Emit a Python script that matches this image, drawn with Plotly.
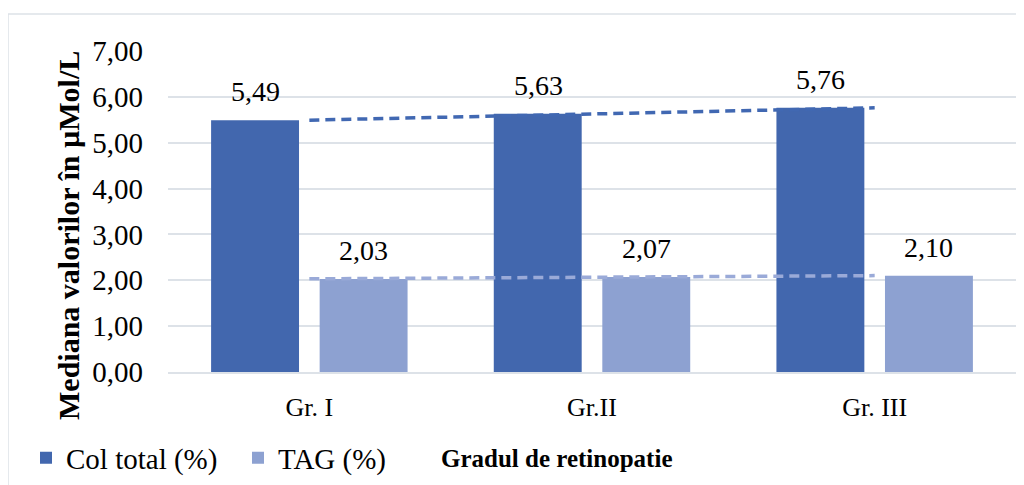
import numpy as np
import plotly.graph_objects as go

categories = ["Gr. I", "Gr.II", "Gr. III"]
col_total = [5.49, 5.63, 5.76]
tag = [2.03, 2.07, 2.10]
series_names = ["Col total (%)", "TAG (%)"]
y_ticks = [0, 1, 2, 3, 4, 5, 6, 7]

FONT = "Liberation Serif, Times New Roman, serif"
COL_C = "#4267ae"
TAG_C = "#8da1d1"
COL_LEG = "#2f59a6"
TAG_LEG = "#97a8d6"
COL_TREND = "#4168b2"
TAG_TREND = "#9aaad8"
GRID = "#dde2e8"

W, H = 1024, 485
OFF = 8  # page body margin
# target plot area in screen pixels
SX0, SX1, SY0, SY1 = 168, 1016, 51, 372
L, T = SX0 - OFF, SY0 - OFF
R, B = W - (SX1 - OFF), H - (SY1 - OFF)
PW, PH = SX1 - SX0, SY1 - SY0

def px_x(p):
    return (p - SX0) / PW

def px_y(p):
    return (SY1 - p) / PH

idx = np.arange(1, len(categories) + 1)
def trend(vals):
    m, b = np.polyfit(idx, vals, 1)
    return list(m * idx + b)

fig = go.Figure()
fig.add_bar(x=categories, y=col_total, name=series_names[0], marker=dict(color=COL_C, line=dict(width=0)))
fig.add_bar(x=categories, y=tag, name=series_names[1], marker=dict(color=TAG_C, line=dict(width=0)))
fig.add_scatter(x=categories, y=trend(col_total), mode="lines", showlegend=False,
                line=dict(color=COL_TREND, width=3.5, dash="10px,6px"), hoverinfo="skip")
fig.add_scatter(x=categories, y=trend(tag), mode="lines", showlegend=False,
                line=dict(color=TAG_TREND, width=3.5, dash="10px,6px"), hoverinfo="skip")

annotations = []
for vals, shift in ((col_total, -54), (tag, 54)):
    for c, v in zip(categories, vals):
        annotations.append(dict(x=c, y=v, xref="x", yref="y", text=f"{v:.2f}".replace(".", ","),
                                showarrow=False, xshift=shift, yshift=11, yanchor="bottom",
                                font=dict(family=FONT, size=28, color="#000000")))
annotations.append(dict(x=px_x(556), y=px_y(458), xref="paper", yref="paper",
                        text="<b>Gradul de retinopatie</b>", showarrow=False,
                        xanchor="center", yanchor="middle",
                        font=dict(family=FONT, size=25, color="#000000")))
annotations.append(dict(x=px_x(69), y=px_y(236), xref="paper", yref="paper",
                        text="<b>Mediana valorilor în µMol/L</b>", showarrow=False, textangle=-90,
                        xanchor="center", yanchor="middle",
                        font=dict(family=FONT, size=30, color="#000000")))

fig.update_layout(
    width=W, height=H,
    margin=dict(l=L, r=R, t=T, b=B, autoexpand=False),
    paper_bgcolor="white", plot_bgcolor="white",
    separators=",.",
    barmode="group", bargap=0.232, bargroupgap=0.19,
    font=dict(family=FONT, size=26, color="#000000"),
    showlegend=True,
    legend=dict(orientation="h", x=px_x(26), xanchor="left", y=px_y(458), yanchor="middle",
                font=dict(family=FONT, size=29, color="#000000"), bgcolor="rgba(0,0,0,0)",
                traceorder="normal", entrywidth=167),
    annotations=annotations,
    shapes=[dict(type="rect", xref="paper", yref="paper",
                 x0=px_x(8), x1=1.05, y0=-0.6, y1=px_y(14),
                 line=dict(color=GRID, width=1.5), fillcolor="rgba(0,0,0,0)", layer="below")],
)
fig.update_xaxes(showgrid=False, showline=True, linecolor=GRID, linewidth=1.5, automargin=False,
                 ticks="", ticklabelstandoff=11, tickfont=dict(family=FONT, size=26))
fig.update_yaxes(range=[0, 7], tickvals=y_ticks, tickformat=".2f", showgrid=True, automargin=False,
                 gridcolor=GRID, gridwidth=1.5, zeroline=False, showline=False,
                 ticks="", ticklabelstandoff=24, tickfont=dict(family=FONT, size=29))

fig.write_html("out.html")
